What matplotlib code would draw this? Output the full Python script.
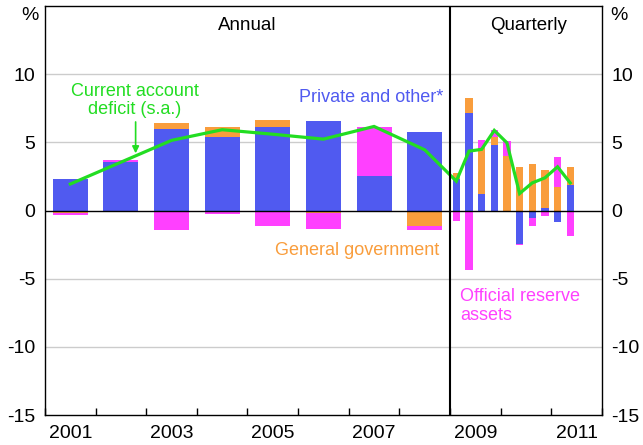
import numpy as np
import matplotlib
matplotlib.use("Agg")
import matplotlib.pyplot as plt

plt.rcParams['font.family'] = ['Liberation Sans', 'DejaVu Sans']

# Annual data (2001-2008), per cent of GDP
annual_years = ['2001', '2002', '2003', '2004', '2005', '2006', '2007', '2008']
annual_private = [2.34, 3.54, 6.00, 5.41, 6.15, 6.59, 2.56, 5.78]
annual_govt = [-0.15, 0.0, 0.44, 0.73, 0.51, -0.18, 0.0, -1.10]
annual_reserve = [-0.20, 0.20, -1.39, -0.22, -1.10, -1.15, 3.59, -0.35]
annual_cad = [1.95, 3.55, 5.15, 5.93, 5.60, 5.24, 6.17, 4.46]

# Quarterly data (2009Q1-2011Q2)
quarters = ['2009Q1', '2009Q2', '2009Q3', '2009Q4', '2010Q1', '2010Q2',
            '2010Q3', '2010Q4', '2011Q1', '2011Q2']
q_private = [2.28, 7.18, 1.25, 4.78, 0.0, -2.45, -0.55, 0.22, -0.85, 1.91]
q_govt = [0.49, 1.10, 3.35, 0.61, 4.00, 3.16, 3.38, 2.78, 1.74, 1.25]
q_reserve = [-0.78, -4.39, 0.55, 0.49, 1.07, -0.10, -0.60, -0.40, 2.16, -1.88]
q_cad = [2.16, 4.36, 4.49, 5.88, 4.97, 1.25, 2.03, 2.40, 3.21, 2.03]

x_labels = ['2001', '2003', '2005', '2007', '2009', '2011']

BLUE = '#505AF0'
ORANGE = '#F99D3C'
MAGENTA = '#FF40FF'
GREEN = '#22DD22'

fig = plt.figure(figsize=(6.43, 4.45), dpi=100)
ax = fig.add_axes([0.070, 0.067, 0.866, 0.9195])

ax_x = np.arange(len(annual_years)) + 0.5
q_x = 8 + (np.arange(len(quarters)) + 0.5) / 4.0

def stacked(ax, x, series, colors, width):
    pos = np.zeros(len(x))
    neg = np.zeros(len(x))
    for vals, c in zip(series, colors):
        v = np.array(vals, dtype=float)
        p = np.where(v > 0, v, 0)
        n = np.where(v < 0, v, 0)
        ax.bar(x, p, width=width, bottom=pos, color=c, linewidth=0, zorder=2)
        ax.bar(x, n, width=width, bottom=neg, color=c, linewidth=0, zorder=2)
        pos += p
        neg += n

stacked(ax, ax_x, [annual_private, annual_govt, annual_reserve],
        [BLUE, ORANGE, MAGENTA], 0.69)
stacked(ax, q_x, [q_private, q_govt, q_reserve],
        [BLUE, ORANGE, MAGENTA], 0.145)

line_x = np.concatenate([ax_x, q_x])
line_y = np.array(annual_cad + q_cad)
ax.plot(line_x, line_y, color=GREEN, lw=2.3, zorder=4, solid_joinstyle='miter')

ax.set_xlim(0, 11)
ax.set_ylim(-15, 15)

for yv in [-10, -5, 5, 10]:
    ax.axhline(yv, color='#CCCCCC', lw=1.0, zorder=1)
ax.axhline(0, color='black', lw=1.0, zorder=3)
ax.axvline(8, color='black', lw=1.5, zorder=5)

for s in ax.spines.values():
    s.set_linewidth(1.0)
    s.set_color('black')

ax.set_yticks([-15, -10, -5, 0, 5, 10])
ax.set_yticklabels(['-15', '-10', '-5', '0', '5', '10'])
ax.tick_params(axis='y', length=0, labelsize=14, pad=7,
               labelleft=True, labelright=True)

ax.set_xticks(np.arange(0, 12), minor=False)
ax.set_xticklabels([])
ax.tick_params(axis='x', which='major', direction='in', length=5, width=1)
ax.set_xticks([0.5, 2.5, 4.5, 6.5, 8.5, 10.5], minor=True)
ax.set_xticklabels(x_labels, minor=True)
ax.tick_params(axis='x', which='minor', length=0, labelsize=14, pad=7)

fig.text(30 / 643, 1 - 16 / 445, '%', ha='center', va='center', fontsize=14)
fig.text(619 / 643, 1 - 16 / 445, '%', ha='center', va='center', fontsize=14)

ax.text(4.0, 13.55, 'Annual', ha='center', va='center', fontsize=13.5)
ax.text(9.55, 13.55, 'Quarterly', ha='center', va='center', fontsize=13.5)

ax.text(1.78, 8.05, 'Current account\ndeficit (s.a.)', ha='center', va='center',
        fontsize=13, color=GREEN, linespacing=1.1)
ax.annotate('', xy=(1.79, 4.2), xytext=(1.79, 6.5),
            arrowprops=dict(arrowstyle='-|>', color=GREEN, lw=1.2,
                            mutation_scale=10, shrinkA=0, shrinkB=0))
ax.text(7.86, 8.3, 'Private and other*', ha='right', va='center',
        fontsize=13, color=BLUE)
ax.text(7.79, -2.95, 'General government', ha='right', va='center',
        fontsize=13, color=ORANGE)
ax.text(8.2, -7.0, 'Official reserve\nassets', ha='left', va='center',
        fontsize=13, color=MAGENTA, linespacing=1.1)

fig.savefig('out.png', dpi=100)
